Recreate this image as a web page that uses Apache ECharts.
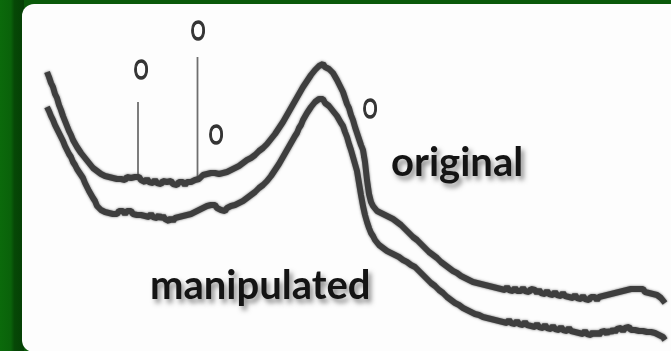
<!DOCTYPE html>
<html>
<head>
<meta charset="utf-8">
<script src="https://cdn.jsdelivr.net/npm/echarts@6/dist/echarts.min.js"></script>
<style>
  html, body { margin: 0; padding: 0; background: #0a5a0a; }
  #chart { width: 671px; height: 351px; }
</style>
</head>
<body>
<div id="chart"></div>
<script>
// Diffraction scan: 2θ grid (degrees), sampled every 0.2°
const scanStart = 4.7;
const scanStep = 0.2;

// Intensity of the original sample (a.u.), one value per scan step
const originalCounts = [
  279,274,268,264,257,253,246,241,235,230,
  225,220,216,211,209,204,203,198,197,193,
  192,188,187,183,184,180,180,177,178,175,
  176,174,176,173,175,172,174,172,174,171,
  174,172,173,171,174,172,174,171,172,169,
  172,169,171,168,171,168,170,167,170,168,
  169,167,170,167,169,166,169,167,169,166,
  169,167,169,168,171,173,172,174,176,174,
  177,175,178,180,178,176,177,175,178,176,
  179,178,181,180,183,182,185,184,188,187,
  191,190,193,193,196,196,200,199,203,203,
  207,207,212,212,217,218,223,223,229,230,
  236,236,243,245,250,252,257,259,264,265,
  270,272,276,277,281,281,285,284,287,284,
  286,282,283,278,277,271,269,263,259,253,
  247,243,236,231,224,218,212,206,201,189,
  171,157,149,145,143,140,141,138,139,136,
  137,134,135,132,133,129,129,126,126,122,
  122,118,118,114,115,111,111,107,107,103,
  103,99,100,96,96,93,93,89,90,86,
  87,83,84,80,81,78,79,75,76,73,
  74,71,72,69,71,68,70,67,69,66,
  68,65,67,64,66,63,65,62,64,61,
  64,61,63,60,63,60,62,60,63,60,
  62,59,62,60,61,58,61,58,60,57,
  60,57,59,56,59,56,58,55,58,55,
  57,54,56,53,56,53,55,52,55,52,
  54,51,54,52,54,51,54,52,55,53,
  56,54,57,55,58,56,59,57,60,58,
  61,59,62,60,62,60,62,60,62,59,
  61,58,60,57,58,56,55,53,51,48
];

// Intensity of the manipulated sample (a.u.), same scan steps
const manipulatedCounts = [
  244,240,235,231,226,222,218,214,210,205,
  201,197,194,189,186,182,180,176,173,168,
  166,160,158,153,150,145,144,141,142,139,
  141,138,140,137,139,137,140,138,140,137,
  140,138,140,137,139,136,138,136,138,135,
  137,134,137,134,136,133,136,132,135,132,
  134,130,133,130,133,131,134,132,135,133,
  136,134,137,136,139,138,141,140,143,142,
  145,143,146,144,146,143,144,141,143,140,
  143,142,145,143,146,145,148,147,150,150,
  153,153,156,156,159,159,163,162,166,166,
  170,170,175,175,181,182,187,188,194,195,
  201,202,208,210,215,218,223,226,231,233,
  238,239,244,245,249,248,252,250,252,248,
  249,245,245,240,240,235,233,228,225,219,
  214,207,201,194,187,180,168,156,145,136,
  129,123,118,115,111,109,106,106,103,103,
  100,101,98,99,96,97,94,94,91,92,
  89,89,86,87,84,84,80,80,76,76,
  72,72,68,69,65,65,61,62,58,58,
  54,55,51,52,48,49,46,47,43,44,
  41,42,39,40,37,39,36,38,34,36,
  33,35,32,34,31,33,30,32,29,31,
  28,31,28,30,27,30,27,29,26,29,
  26,28,25,27,24,27,24,26,23,26,
  23,25,22,25,22,24,21,24,21,23,
  20,23,20,22,19,21,18,20,17,20,
  17,19,16,19,16,19,16,19,17,20,
  17,21,18,22,19,22,20,23,20,23,
  21,24,21,23,21,23,20,22,20,22,
  19,21,19,20,18,19,16,16,14,11
];

// Sharp reflections on the original scan: position, foot and tip
const reflectionPos = [13.8, 19.75, 36.2];
const reflectionFoot = [173, 172, 206];
const reflectionTip = [249, 294, 193];

// "O" markers above the reflections
const markerPos = [14.1, 19.8, 21.6, 37.0];
const markerLevel = [279, 318, 214, 240];
const markerText = 'O';

const seriesLabels = ['original', 'manipulated'];

function toPairs(counts) {
  return counts.map((c, i) => [+(scanStart + i * scanStep).toFixed(2), c]);
}

const traceStyle = {
  color: '#3e3e3e', width: 6,
  shadowBlur: 2.5, shadowColor: 'rgba(60,60,60,0.75)'
};

const series = [
  { name: seriesLabels[0], type: 'line', data: toPairs(originalCounts), symbol: 'none', z: 3, lineStyle: traceStyle },
  { name: seriesLabels[1], type: 'line', data: toPairs(manipulatedCounts), symbol: 'none', z: 3, lineStyle: traceStyle }
];

reflectionPos.forEach((p, i) => {
  series.push({
    type: 'line', symbol: 'none', z: 1,
    data: [[p, reflectionFoot[i]], [p, reflectionTip[i]]],
    lineStyle: { color: '#6f6f6f', width: 1.8 }
  });
});

const chart = echarts.init(document.getElementById('chart'), null, { renderer: 'canvas' });

const labelShadow = {
  textShadowColor: 'rgba(0,0,0,0.45)', textShadowBlur: 5,
  textShadowOffsetX: 3, textShadowOffsetY: 4
};

function seriesTitle(text, x, y) {
  return {
    type: 'text', z: 10, silent: true,
    style: Object.assign({
      text: text, x: x, y: y, fill: '#141414', verticalAlign: 'top',
      fontSize: 40, fontWeight: 'bold', fontFamily: "Lato, 'Open Sans', sans-serif"
    }, labelShadow)
  };
}

const baseGraphics = [
  {
    type: 'rect', z: -10, silent: true,
    shape: { x: 0, y: 0, width: 24, height: 351 },
    style: {
      fill: new echarts.graphic.LinearGradient(0, 0, 1, 0, [
        { offset: 0, color: '#0b6a0b' },
        { offset: 0.45, color: '#0a620a' },
        { offset: 0.6, color: '#064806' },
        { offset: 1, color: '#053f05' }
      ])
    }
  },
  {
    type: 'rect', z: -5, silent: true,
    shape: { x: 22, y: 4, width: 670, height: 348, r: 12 },
    style: { fill: '#fdfdfd' }
  },
  seriesTitle(seriesLabels[0], 391, 143),
  seriesTitle(seriesLabels[1], 150, 266)
];

chart.setOption({
  backgroundColor: '#0a5a0a',
  animation: false,
  grid: { left: 0, right: 0, top: 0, bottom: 0 },
  xAxis: { type: 'value', min: 0, max: 67.1, show: false },
  yAxis: { type: 'value', min: 0, max: 351, show: false },
  graphic: baseGraphics,
  series: series
});

// Reflection markers: placed through the axes, drawn as condensed letters with a heavier stroke
const markerGraphics = markerPos.map((p, i) => {
  const px = chart.convertToPixel({ gridIndex: 0 }, [p, markerLevel[i]]);
  return {
    type: 'text', z: 10, silent: true,
    x: px[0], y: px[1], scaleX: 0.7,
    style: {
      text: markerText, x: 0, y: 0, align: 'center', verticalAlign: 'middle',
      font: "27px 'Liberation Sans', Arial, sans-serif",
      fill: '#333333', stroke: '#333333', lineWidth: 1.4
    }
  };
});

chart.setOption({ graphic: baseGraphics.concat(markerGraphics) }, { replaceMerge: ['graphic'] });
</script>
</body>
</html>
